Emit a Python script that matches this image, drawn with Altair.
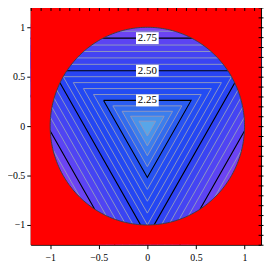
import numpy as np
import pandas as pd
import altair as alt

# ---- values ----
levels = [2.05, 2.10, 2.15, 2.20, 2.25, 2.30, 2.35, 2.40, 2.45, 2.50,
          2.55, 2.60, 2.65, 2.70, 2.75, 2.80, 2.85]
# distance (top edge height) of each triangular contour from the centre
level_t = [0.05, 0.10, 0.15, 0.205, 0.26, 0.32, 0.38, 0.44, 0.50, 0.56,
           0.625, 0.69, 0.755, 0.82, 0.89, 0.96, 1.03]
# fill colour of the band just inside each contour
band_colors = ["#58a6e8", "#4892ea", "#3c7eec", "#326cee", "#2a5cf0",
               "#2652f2", "#234cf3", "#2248f3", "#2446f3", "#2844f3",
               "#3044f3", "#3a44f3", "#4444f3", "#5044f3", "#5c44f3",
               "#6c44f2", "#7e42f2"]
major_levels = [2.25, 2.50, 2.75]
major_text = ["2.25", "2.50", "2.75"]
major_ticks = [-1.0, -0.5, 0.0, 0.5, 1.0]
minor_x_ticks = [round(v, 1) for v in np.arange(-1.2, 1.11, 0.1)]
minor_y_ticks = [round(v, 1) for v in np.arange(-1.2, 1.21, 0.1)]

XD = [-1.2, 1.17]
YD = [-1.2, 1.2]
xs = alt.Scale(domain=XD, nice=False, zero=False)
ys = alt.Scale(domain=YD, nice=False, zero=False)
sq3 = np.sqrt(3.0)

# triangle geometry (downward-pointing equilateral triangles)
tri_rows, line_rows = [], []
for L, t in zip(levels, level_t):
    tri_rows += [dict(level=L, x=-sq3 * t, y=t, y2=t),
                 dict(level=L, x=0.0, y=t, y2=-2 * t),
                 dict(level=L, x=sq3 * t, y=t, y2=t)]
    kind = "major" if any(abs(L - m) < 1e-9 for m in major_levels) else "minor"
    pts = [(-sq3 * t, t), (0.0, -2 * t), (sq3 * t, t), (-sq3 * t, t)]
    for i, (px, py) in enumerate(pts):
        line_rows.append(dict(level=L, idx=i, x=px, y=py, kind=kind))
tri = pd.DataFrame(tri_rows)
lines = pd.DataFrame(line_rows)

# disk boundary and red mask outside the disk
th = np.linspace(0, np.pi, 241)
cx = np.cos(th)
cy = np.sin(th)
mask_rows = []
for part, sgn in (("top", 1), ("bot", -1)):
    xs_ = np.concatenate([[-1.4], cx[::-1], [1.4]])
    ys_ = np.concatenate([[0.0], cy[::-1], [0.0]])
    for a, b in zip(xs_, ys_):
        mask_rows.append(dict(part=part, x=a, y=sgn * 1.4, y2=sgn * b))
mask = pd.DataFrame(mask_rows)
th2 = np.linspace(0, 2 * np.pi, 361)
circle = pd.DataFrame(dict(x=np.cos(th2), y=np.sin(th2), o=np.arange(361)))

labels = pd.DataFrame(dict(x=[0.0] * 3,
                           y=[level_t[levels.index(m)] for m in major_levels],
                           text=major_text))

common = dict(domain=False, grid=False, tickColor="black", title=None,
              minExtent=0, maxExtent=60)
ax_bottom = alt.Axis(values=major_ticks, tickSize=4, format="~g",
                     labelFont="Liberation Serif", labelFontSize=10,
                     labelColor="black", labelPadding=4, labelOverlap=False, **common)
ax_left = alt.Axis(values=major_ticks, tickSize=4, format="~g",
                   labelFont="Liberation Serif", labelFontSize=10,
                   labelColor="black", labelPadding=2, labelOverlap=False, **common)
ax_bottom_minor = alt.Axis(values=minor_x_ticks, tickSize=2, labels=False, **common)
ax_left_minor = alt.Axis(values=minor_y_ticks, tickSize=2, labels=False, **common)
ax_top = alt.Axis(orient="top", values=minor_x_ticks, labels=False, tickSize=3,
                  offset=-3, zindex=1, **common)
ax_right = alt.Axis(orient="right", values=minor_y_ticks, labels=False, tickSize=3,
                    offset=-3, zindex=1, **common)

layers = []
for L, c in reversed(list(zip(levels, band_colors))):
    layers.append(
        alt.Chart(tri[tri.level == L]).mark_area(color=c, clip=True, interpolate="linear")
        .encode(x=alt.X("x:Q", scale=xs, axis=None),
                y=alt.Y("y:Q", scale=ys, axis=None), y2="y2:Q"))

for kind, col, w in (("minor", "#8e96c0", 1.0), ("major", "black", 1.1)):
    layers.append(
        alt.Chart(lines[lines.kind == kind]).mark_line(color=col, strokeWidth=w, clip=True)
        .encode(x=alt.X("x:Q", scale=xs, axis=None),
                y=alt.Y("y:Q", scale=ys, axis=None),
                detail="level:N", order="idx:Q"))

layers.append(
    alt.Chart(mask).mark_area(color="#ff0000", clip=True, interpolate="linear")
    .encode(x=alt.X("x:Q", scale=xs, axis=None),
            y=alt.Y("y:Q", scale=ys, axis=None), y2="y2:Q", detail="part:N"))

layers.append(
    alt.Chart(circle).mark_line(color="#3a3f48", strokeWidth=1, clip=True)
    .encode(x=alt.X("x:Q", scale=xs, axis=ax_bottom),
            y=alt.Y("y:Q", scale=ys, axis=ax_left), order="o:Q"))

layers.append(
    alt.Chart(labels).mark_rect(width=23, height=12, color="white")
    .encode(x=alt.X("x:Q", scale=xs, axis=ax_bottom_minor),
            y=alt.Y("y:Q", scale=ys, axis=ax_left_minor)))
layers.append(
    alt.Chart(labels).mark_text(font="Liberation Serif", fontSize=11, color="black")
    .encode(x=alt.X("x:Q", scale=xs, axis=ax_top),
            y=alt.Y("y:Q", scale=ys, axis=ax_right), text="text:N"))

chart = (alt.layer(*layers)
         .resolve_axis(x="independent", y="independent")
         .properties(width=233, height=240,
                     padding={"left": -2, "top": -5, "right": 1, "bottom": 0})
         .configure_view(fill="#ff0000", stroke="black", strokeWidth=1))

chart.save("out.html", embed_options={"renderer": "svg", "actions": False})
